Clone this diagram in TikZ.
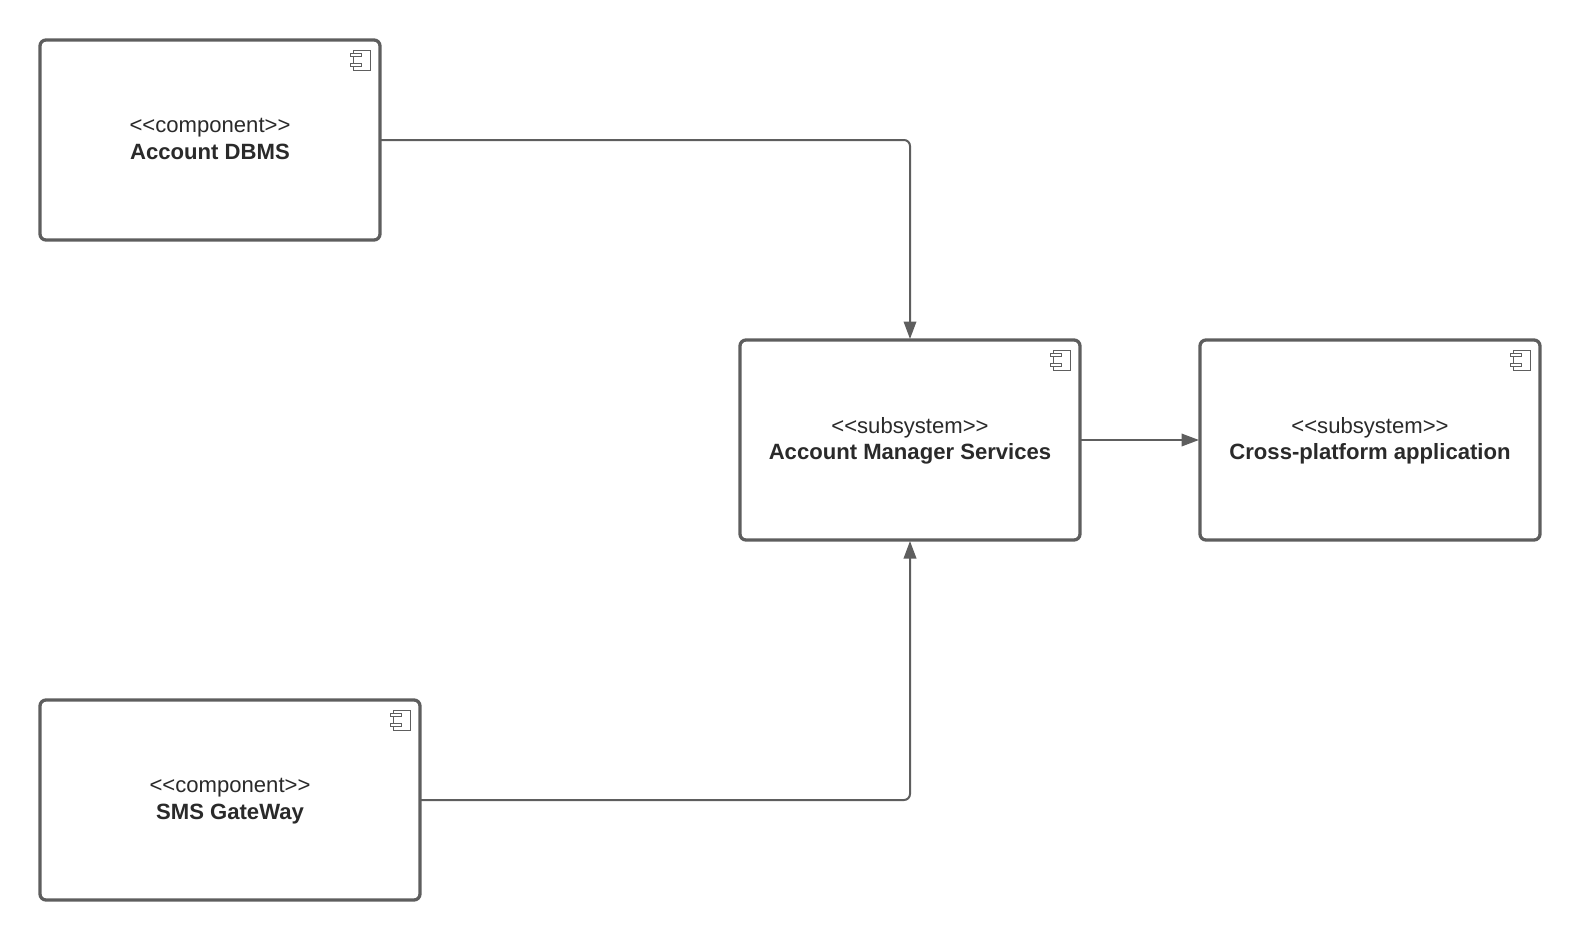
\documentclass[tikz,border=0pt]{standalone}
\usepackage{fontspec}
\setmainfont{Liberation Sans}
\usetikzlibrary{arrows.meta,positioning}
\definecolor{ln}{HTML}{5E5E5E}
\definecolor{tx}{HTML}{2A2A2A}
\tikzset{
  x=1pt,y=-1pt,
  comp/.style={draw=ln,line width=3.3pt,rounded corners=6pt,fill=white,minimum height=200pt,inner sep=0pt,outer sep=0pt,
    font=\fontsize{22.1}{26.3}\selectfont,text=tx,align=center,text depth=2.4pt},
  wire/.style={draw=ln,line width=2pt,rounded corners=6pt,-{Triangle[length=17.5pt,width=12.5pt]},shorten >=1pt},
  icon/.style={draw=ln,line width=1pt},
}
\newcommand{\compicon}[1]{%
  \begin{scope}[shift={(#1)}]
    \draw[icon] (-27,13.3) -- (-27,10) -- (-10,10) -- (-10,30) -- (-27,30) -- (-27,26.7);
    \draw[icon] (-27,16.7) -- (-27,23.3);
    \draw[icon] (-30,13.3) rectangle (-19,16.7);
    \draw[icon] (-30,23.3) rectangle (-19,26.7);
  \end{scope}}
\begin{document}
\begin{tikzpicture}
\useasboundingbox (0,0) rectangle (1580,940);
\node[comp,minimum width=340pt] (dbms) at (210,140) {<{}<component>{}>\\\textbf{Account DBMS}};
\node[comp,minimum width=340pt] (ams) at (910,440) {<{}<subsystem>{}>\\\textbf{Account Manager Services}};
\node[comp,minimum width=340pt] (cpa) at (1370,440) {<{}<subsystem>{}>\\\textbf{Cross-platform application}};
\node[comp,minimum width=380pt] (sms) at (230,800) {<{}<component>{}>\\\textbf{SMS GateWay}};
\compicon{dbms.north east}
\compicon{ams.north east}
\compicon{cpa.north east}
\compicon{sms.north east}
\draw[wire] (dbms.east) -| (ams.north);
\draw[wire] (sms.east) -| (ams.south);
\draw[wire] (ams.east) -- (cpa.west);
\end{tikzpicture}
\end{document}
